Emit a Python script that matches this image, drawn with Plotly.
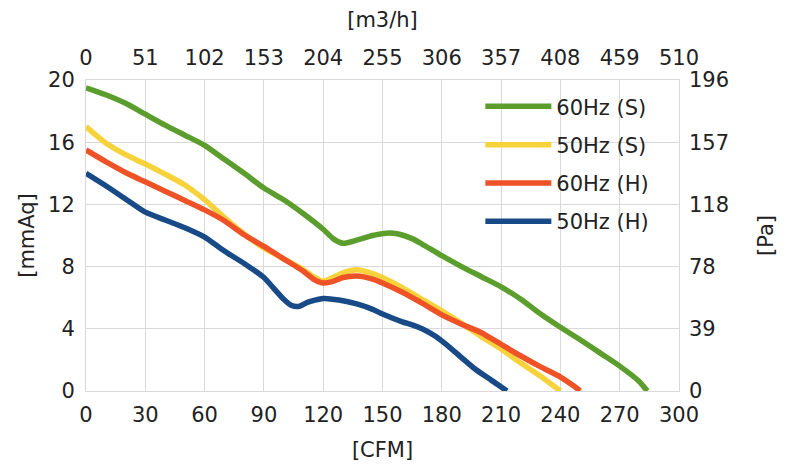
import plotly.graph_objects as go

# ---- data (CFM vs mmAq) ----
g_cfm = [0, 10, 20, 30, 40, 50, 60, 70, 80, 90, 100, 110, 120, 125, 130, 137, 145, 152, 158, 165, 170,
         180, 190, 200, 210, 220, 230, 240, 250, 260, 270, 280, 284]
g_val = [19.5, 19.05, 18.5, 17.8, 17.1, 16.45, 15.8, 14.9, 14.0, 13.05, 12.3, 11.4, 10.4, 9.8, 9.5, 9.7,
         10.0, 10.15, 10.1, 9.8, 9.45, 8.7, 8.0, 7.35, 6.7, 5.9, 4.95, 4.1, 3.3, 2.45, 1.6, 0.6, 0.0]

y_cfm = [0, 5, 10, 20, 30, 40, 50, 60, 70, 80, 90, 100, 110, 115, 120, 125, 130, 137, 145, 150, 160,
         170, 180, 190, 200, 210, 220, 230, 240]
y_val = [17.0, 16.45, 15.95, 15.2, 14.6, 13.95, 13.25, 12.3, 11.15, 10.1, 9.2, 8.5, 7.8, 7.35, 7.05, 7.3,
         7.6, 7.8, 7.55, 7.3, 6.65, 5.9, 5.15, 4.35, 3.5, 2.7, 1.8, 0.95, 0.0]

r_cfm = [0, 10, 20, 30, 40, 50, 60, 70, 80, 90, 100, 110, 115, 120, 125, 130, 137, 145, 150, 160, 170,
         180, 190, 200, 210, 220, 230, 240, 247, 250]
r_val = [15.5, 14.75, 14.05, 13.45, 12.85, 12.25, 11.65, 10.95, 10.05, 9.3, 8.5, 7.7, 7.2, 6.95, 7.05, 7.3,
         7.4, 7.2, 6.95, 6.35, 5.65, 4.9, 4.3, 3.75, 3.0, 2.25, 1.55, 0.9, 0.3, 0.0]

b_cfm = [0, 10, 20, 30, 40, 50, 60, 70, 80, 90, 95, 100, 104, 108, 112, 120, 128, 137, 145, 150, 160,
         165, 170, 177, 185, 190, 197, 205, 213]
b_val = [14.0, 13.2, 12.35, 11.5, 11.0, 10.5, 9.9, 9.0, 8.2, 7.3, 6.6, 5.9, 5.5, 5.45, 5.7, 5.95, 5.85,
         5.6, 5.25, 4.95, 4.45, 4.25, 4.0, 3.5, 2.7, 2.15, 1.4, 0.7, 0.0]

series_names = ["60Hz (S)", "50Hz (S)", "60Hz (H)", "50Hz (H)"]
series_colors = ["#5c9e2e", "#f7d23a", "#ef5226", "#174a86"]

cfm_ticks = [0, 30, 60, 90, 120, 150, 180, 210, 240, 270, 300]
m3h_ticks = [0, 51, 102, 153, 204, 255, 306, 357, 408, 459, 510]
mmaq_ticks = [0, 4, 8, 12, 16, 20]
pa_labels = ["0", "39", "78", "118", "157", "196"]
PA_PER_MMAQ = 9.80665

FONT = "DejaVu Sans, sans-serif"
TXT = "#222222"
GRID = "#d9d9d9"
FS = 21

fig = go.Figure()
data = [(g_cfm, g_val), (y_cfm, y_val), (r_cfm, r_val), (b_cfm, b_val)]
for (xs, ys), name, col in zip(data, series_names, series_colors):
    fig.add_trace(go.Scatter(x=xs, y=ys, mode="lines", name=name,
                             line=dict(color=col, width=5.5, shape="spline", smoothing=0.6),
                             legendgroup=name, xaxis="x", yaxis="y"))

# invisible trace to activate secondary axes
fig.add_trace(go.Scatter(x=[0, 510], y=[0, 20 * PA_PER_MMAQ], mode="markers",
                         marker=dict(opacity=0), showlegend=False, hoverinfo="skip",
                         xaxis="x2", yaxis="y2"))

fig.update_layout(
    width=796, height=466,
    paper_bgcolor="white", plot_bgcolor="white",
    margin=dict(l=78, r=125, t=72, b=83),
    font=dict(family=FONT, size=FS, color=TXT),
    xaxis=dict(range=[0, 300], tickvals=cfm_ticks, showgrid=True, gridcolor=GRID, gridwidth=1,
               showline=True, linecolor=GRID, linewidth=1, mirror=True, zeroline=False,
               ticks="", ticklabelstandoff=5,
               title=dict(text="[CFM]", standoff=16, font=dict(size=FS))),
    xaxis2=dict(range=[0, 510], tickvals=m3h_ticks, overlaying="x", side="top", showgrid=False,
                zeroline=False, ticks="", ticklabelstandoff=10,
                title=dict(text="[m3/h]", standoff=12, font=dict(size=FS))),
    yaxis=dict(range=[0, 20], tickvals=mmaq_ticks, showgrid=True, gridcolor=GRID, gridwidth=1,
               showline=True, linecolor=GRID, linewidth=1, mirror=True, zeroline=False,
               ticks="", ticklabelstandoff=6,
               title=dict(text="[mmAq]", standoff=7, font=dict(size=FS))),
    yaxis2=dict(range=[0, 20 * PA_PER_MMAQ], tickvals=[v * PA_PER_MMAQ for v in mmaq_ticks],
                ticktext=pa_labels, overlaying="y", side="right", showgrid=False, zeroline=False,
                ticks="", ticklabelstandoff=9,
                title=dict(text="[Pa]", standoff=30, font=dict(size=FS))),
    legend=dict(x=0.665, y=0.98, xanchor="left", yanchor="top", bgcolor="rgba(0,0,0,0)",
                font=dict(size=FS, color=TXT), tracegroupgap=8, itemwidth=66),
    showlegend=True,
)

fig.write_html("out.html")
